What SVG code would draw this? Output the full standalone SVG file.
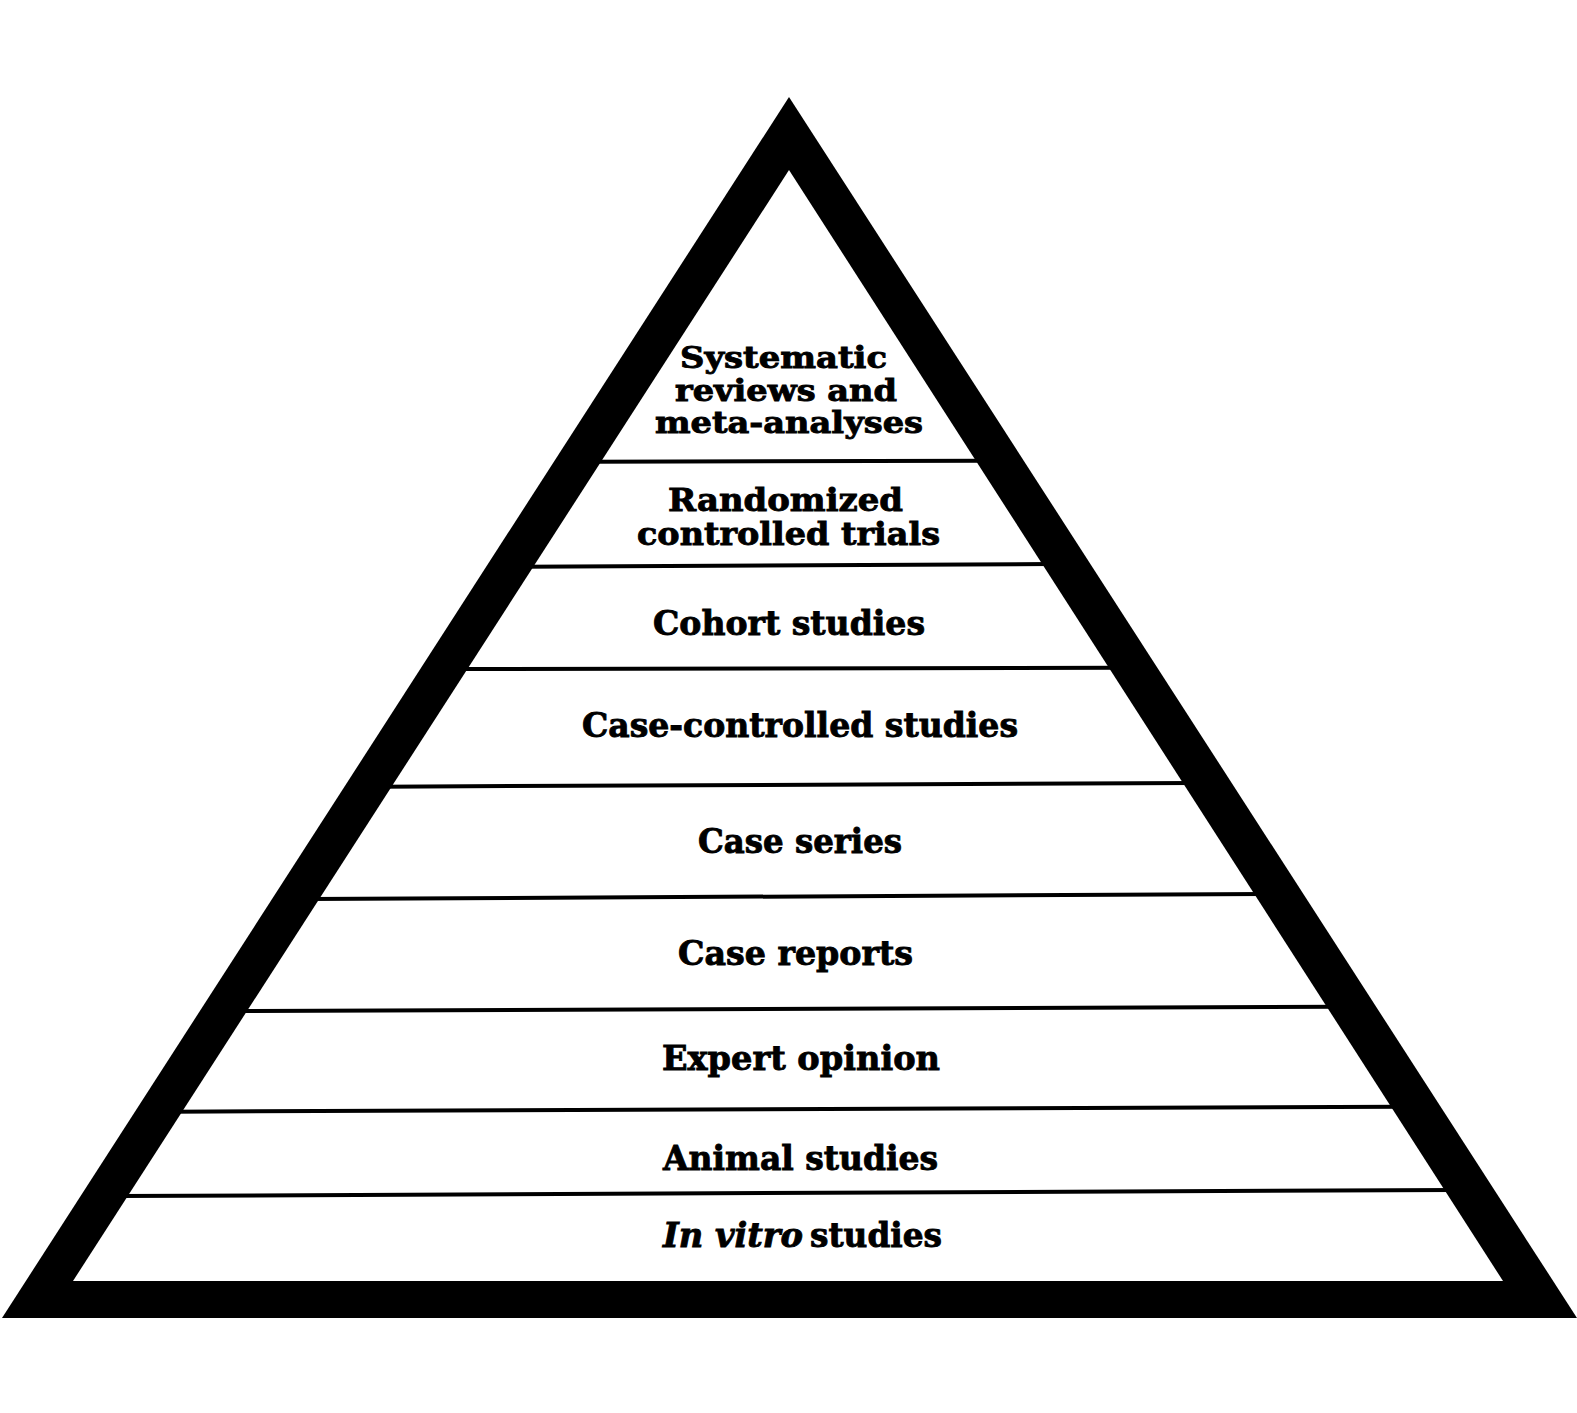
<svg xmlns="http://www.w3.org/2000/svg" width="1577" height="1413" viewBox="0 0 1577 1413">
<style>
.lbl{font-family:"DejaVu Serif","Liberation Serif",serif;font-weight:bold;font-size:34px;fill:#000;stroke:#000;stroke-width:0.9px;}
.ml{font-size:32px;}
.tl{font-size:30px;}
.it{font-style:italic;}
.div{stroke:#000;stroke-width:4;fill:none;}
</style>
<rect x="0" y="0" width="1577" height="1413" fill="#fff"/>
<g id="pyramid">
<polygon points="789,97 2,1318 1577,1318" fill="#000"/>
<polygon points="789,170 73,1281 1503,1281" fill="#fff"/>
</g>
<g id="connectors">
<line class="div" x1="591" y1="461.7" x2="986" y2="460.7"/>
<line class="div" x1="523" y1="566.7" x2="1052" y2="564"/>
<line class="div" x1="457" y1="669" x2="1119" y2="667.7"/>
<line class="div" x1="381" y1="786.7" x2="1193" y2="783"/>
<line class="div" x1="309" y1="899" x2="1264" y2="894"/>
<line class="div" x1="237" y1="1011" x2="1337" y2="1006.7"/>
<line class="div" x1="172" y1="1111.7" x2="1401" y2="1106.7"/>
<line class="div" x1="118" y1="1196" x2="1454" y2="1190"/>
</g>
<g id="systematic">
<text class="lbl tl" x="680" y="368" textLength="207" lengthAdjust="spacingAndGlyphs">Systematic</text>
<text class="lbl tl" x="675" y="401" textLength="222" lengthAdjust="spacingAndGlyphs">reviews and</text>
<text class="lbl tl" x="655" y="433" textLength="268" lengthAdjust="spacingAndGlyphs">meta-analyses</text>
</g>
<g id="rct">
<text class="lbl ml" x="668" y="510.7" textLength="235" lengthAdjust="spacingAndGlyphs">Randomized</text>
<text class="lbl ml" x="637" y="545" textLength="303" lengthAdjust="spacingAndGlyphs">controlled trials</text>
</g>
<g id="cohort">
<text class="lbl" x="653" y="635" textLength="272" lengthAdjust="spacingAndGlyphs">Cohort studies</text>
</g>
<g id="casecontrol">
<text class="lbl" x="582" y="736.7" textLength="436" lengthAdjust="spacingAndGlyphs">Case-controlled studies</text>
</g>
<g id="caseseries">
<text class="lbl" x="698" y="852.7" textLength="204" lengthAdjust="spacingAndGlyphs">Case series</text>
</g>
<g id="casereports">
<text class="lbl" x="678" y="965" textLength="235" lengthAdjust="spacingAndGlyphs">Case reports</text>
</g>
<g id="expert">
<text class="lbl" x="662" y="1070" textLength="278" lengthAdjust="spacingAndGlyphs">Expert opinion</text>
</g>
<g id="animal">
<text class="lbl" x="663" y="1170" textLength="275" lengthAdjust="spacingAndGlyphs">Animal studies</text>
</g>
<g id="invitro">
<text class="lbl it" x="663" y="1246.7" textLength="140" lengthAdjust="spacingAndGlyphs">In vitro</text>
<text class="lbl" x="810" y="1246.7" textLength="132" lengthAdjust="spacingAndGlyphs">studies</text>
</g>
</svg>
